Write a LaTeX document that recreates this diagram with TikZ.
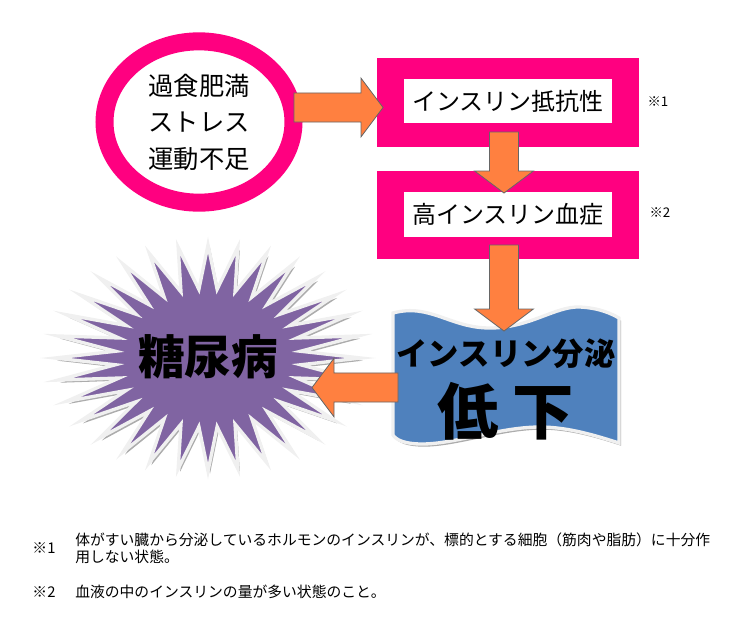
\documentclass[tikz,border=0pt]{standalone}
\usepackage{fontspec}
\usepackage{tikz}
\usetikzlibrary{shapes.geometric,calc,positioning}
\newfontfamily\jp{Noto Sans CJK JP}
\definecolor{ringpink}{RGB}{255,0,128}
\definecolor{arroworange}{RGB}{255,128,64}
\definecolor{wavefill}{RGB}{79,129,189}
\definecolor{burstfill}{RGB}{128,100,162}

\begin{document}
\begin{tikzpicture}[x=0.75pt,y=-0.75pt,
    pinkframe/.style={fill=ringpink, minimum width=196.5pt, minimum height=66.4pt},
    textbox/.style={fill=white, minimum width=156pt, minimum height=33.5pt, inner sep=0pt,
      font=\jp\fontsize{18}{22}\selectfont},
    notemark/.style={font=\jp\fontsize{10}{12}\selectfont},
    foot/.style={inner sep=0pt, font=\jp\fontsize{11.1}{12.75}\selectfont},
    shape3d/.style={draw=gray!12, line width=2.5pt, line join=miter,
      preaction={fill=gray!65, transform canvas={xshift=1.5pt, yshift=-2pt}}},
    blockarrow/.style={fill=arroworange, draw=black!60, line width=0.6pt, line join=miter,
      to path={($(\tikztostart)!10.9pt!90:(\tikztotarget)$)
        -- ($(\tikztotarget)!16.5pt!(\tikztostart)!10.9pt!-90:(\tikztostart)$)
        -- ($(\tikztotarget)!16.5pt!(\tikztostart)!22pt!-90:(\tikztostart)$)
        -- (\tikztotarget)
        -- ($(\tikztotarget)!16.5pt!(\tikztostart)!22pt!90:(\tikztostart)$)
        -- ($(\tikztotarget)!16.5pt!(\tikztostart)!10.9pt!90:(\tikztostart)$)
        -- ($(\tikztostart)!10.9pt!-90:(\tikztotarget)$) -- cycle}}]
      \useasboundingbox (0,0) rectangle (734,633);

      \node(C) at (199,122) [ellipse, draw=ringpink, line width=13.5pt, minimum width=141.75pt,
        minimum height=121pt, inner sep=0pt, align=center,
        font=\jp\fontsize{19}{27.4}\selectfont] {過食肥満\\ストレス\\運動不足};

      \node(F1) at (508,102.5) [pinkframe] {};
      \node(T1) at (508,101)   [textbox] {インスリン抵抗性};
      \node(F2) at (508,215)   [pinkframe] {};
      \node(T2) at (508,214.5) [textbox] {高インスリン血症};
      \node(N1) at (658,102) [notemark] {※1};
      \node(N2) at (660,213) [notemark] {※2};

      \draw[shape3d, fill=wavefill] (393,313) .. controls (430,303) and (450,328) .. (490,328)
        .. controls (530,328) and (555,306) .. (580,307) .. controls (600,308) and (612,314) .. (619,318)
        -- (619,443) .. controls (600,437) and (570,427) .. (540,427)
        .. controls (500,427) and (455,444) .. (422,444) .. controls (405,444) and (396,440) .. (393,435)
        -- cycle;
      \node(W1) at (506,354) [font=\jp\bfseries\fontsize{23.5}{28}\selectfont] {インスリン分泌};
      \node(W2) at (506,411) [font=\jp\bfseries\fontsize{46}{50}\selectfont] {低 下};

      \begin{scope}[shift={(208,358)}]
        \draw[shape3d, fill=burstfill] (0:153 and 113)
          \foreach \i in {1,...,32} { -- ({(\i-0.5)*11.25}:93 and 69) -- ({\i*11.25}:153 and 113) } -- cycle;
      \end{scope}
      \node(D) at (208,357) [font=\jp\bfseries\fontsize{35}{40}\selectfont] {糖尿病};

      \coordinate(A1) at (294,107.5);
      \coordinate(A2) at (383,107.5);
      \coordinate(B1) at (504,132);
      \coordinate(B2) at (504,193);
      \coordinate(B3) at (504,245);
      \coordinate(B4) at (504,331);
      \coordinate(E1) at (398,387.5);
      \coordinate(E2) at (312,387.5);

      \draw[blockarrow] (A1) to (A2);
      \draw[blockarrow] (B1) to (B2);
      \draw[blockarrow] (B3) to (B4);
      \draw[blockarrow] (E1) to (E2);

      \node(M1) at (44,548) [foot] {※1};
      \node(M2) at (75,548) [foot, anchor=west, align=left]
        {体がすい臓から分泌しているホルモンのインスリンが、標的とする細胞（筋肉や脂肪）に十分作\\用しない状態。};
      \node(M3) at (44,592) [foot] {※2};
      \node(M4) at (75,592) [foot, anchor=west] {血液の中のインスリンの量が多い状態のこと。};
    \end{tikzpicture}
\end{document}
